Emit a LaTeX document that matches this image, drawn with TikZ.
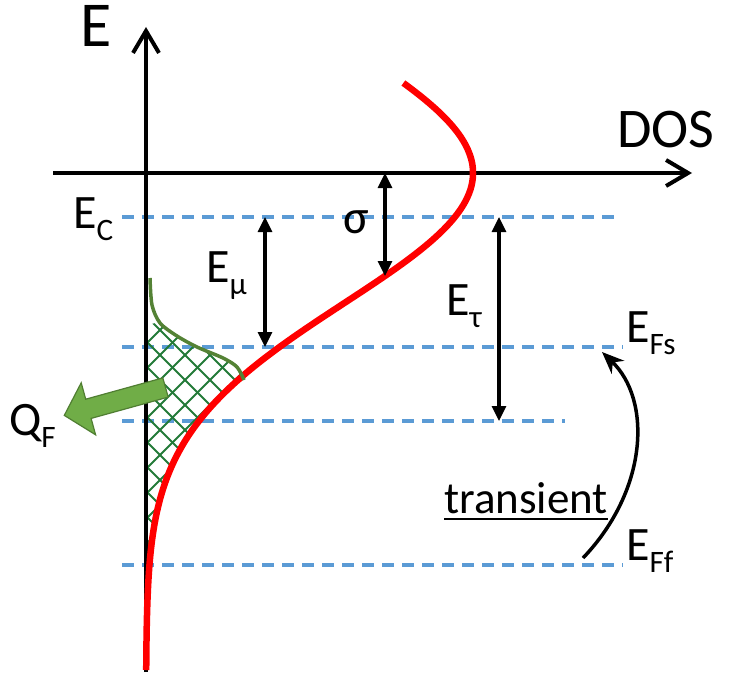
\documentclass[tikz,border=0pt]{standalone}
\usepackage{fontspec}
\setmainfont{Carlito}
\usetikzlibrary{arrows.meta}
\definecolor{lvlblue}{HTML}{5B9BD5}
\definecolor{dosred}{HTML}{FF0000}
\definecolor{trapgreen}{HTML}{548235}
\definecolor{hatchgreen}{HTML}{237A38}
\definecolor{qfill}{HTML}{70AD47}
\definecolor{qline}{HTML}{507E32}
\newcommand{\lsub}[1]{\raisebox{-0.27em}{\scalebox{0.65}{#1}}}
\begin{document}
\begin{tikzpicture}[x=1pt,y=-1pt,
  axisline/.style={line width=4pt,-{Straight Barb[length=22pt,width=26pt]}},
  level/.style={lvlblue,line width=3.5pt,dash pattern=on 12pt off 8pt},
  dim/.style={line width=3.2pt,{Triangle[length=15pt,width=14pt]}-{Triangle[length=15pt,width=14pt]}},
  lab/.style={font=\fontsize{48}{56}\selectfont,inner sep=0pt},
  biglab/.style={font=\fontsize{64}{72}\selectfont,inner sep=0pt},
  hatchline/.style={hatchgreen,line width=1.8pt},
  doscurve/.style={dosred,line width=6.5pt},
  trapcurve/.style={trapgreen,line width=3.5pt},
  transarrow/.style={line width=3.5pt,-{Stealth[length=22pt,width=18pt,inset=7pt]}}]
\useasboundingbox (0,0) rectangle (731,677);

% coordinates
\coordinate (o) at (146,173);
\coordinate (ybot) at (146,672);
\coordinate (ytop) at (146,27);
\coordinate (xl) at (53,173);
\coordinate (xr) at (692,173);
\coordinate (ecL) at (122,217);  \coordinate (ecR) at (615,217);
\coordinate (fsL) at (122,347);  \coordinate (fsR) at (623,347);
\coordinate (tL) at (122,421);   \coordinate (tR) at (565,421);
\coordinate (ffL) at (122,565);  \coordinate (ffR) at (623,565);
\coordinate (mutop) at (265,217); \coordinate (mubot) at (265,347);
\coordinate (sgtop) at (385,173); \coordinate (sgbot) at (385,276);
\coordinate (tautop) at (499,217); \coordinate (taubot) at (499,421);
\coordinate (trs) at (583,558); \coordinate (tre) at (602,352);

% energy levels
\draw[level] (ecL) -- (ecR);
\draw[level] (fsL) -- (fsR);
\draw[level] (tL) -- (tR);
\draw[level] (ffL) -- (ffR);

% hatched occupied states
\begin{scope}
  \clip plot[smooth] coordinates {(146,326) (160,323) (177,336) (197,347) (223,358) (237,367) (244,380)}
    -- plot[variable=\t,domain=380:565,samples=40] ({146+327*exp(-(((\t-173)/183.85)*((\t-173)/183.85)))},\t)
    -- (146,565) -- cycle;
  \foreach \k in {-120,-95,...,230} {\draw[hatchline] (\k,300) -- ++(300,300);}
  \foreach \k in {165,190,...,520} {\draw[hatchline] (\k,300) -- ++(-300,300);}
\end{scope}

% axes
\draw[axisline] (ybot) -- (ytop);
\draw[axisline] (xl) -- (xr);

% DOS curve
\draw[doscurve] plot[variable=\t,domain=83:670,samples=150,smooth] ({146+327*exp(-(((\t-173)/183.85)*((\t-173)/183.85)))},\t);

% trap curve
\draw[trapcurve] plot[smooth] coordinates {(150,278) (152,305) (160,323) (177,336) (197,347) (223,358) (237,367) (244,380)};

% QF arrow
\draw[fill=qfill,draw=qline,line width=1.2pt,line join=miter]
  (162.8,377.9) -- (85.7,399.2) -- (81.2,382.8) -- (64.3,415.4) -- (95.6,434.8) -- (91.1,418.4) -- (168.2,397.1) -- cycle;

% dimension arrows
\draw[dim] (mutop) -- (mubot);
\draw[dim] (sgtop) -- (sgbot);
\draw[dim] (tautop) -- (taubot);

% transient arrow
\draw[transarrow] (trs) .. controls (648,490) and (652,400) .. (tre);

% labels
\node[biglab,anchor=base west] (lE) at (80,47) {E};
\node[font=\fontsize{56}{64}\selectfont,inner sep=0pt,anchor=base west] (lDOS) at (617,147) {DOS};
\node[lab,anchor=base west] (lEC) at (73,228) {E\lsub{C}};
\node[lab,anchor=base] (lsig) at (356,233) {σ};
\node[lab,anchor=base west] (lEmu) at (206,282) {E\lsub{μ}};
\node[lab,anchor=base west] (lEtau) at (446,315) {E\lsub{τ}};
\node[lab,anchor=base west] (lEFs) at (626,342) {E\lsub{Fs}};
\node[lab,anchor=base west] (lEFf) at (626,560) {E\lsub{Ff}};
\node[lab,anchor=base west] (lQF) at (9,435) {Q\lsub{F}};
\node[font=\fontsize{45}{52}\selectfont,inner sep=0pt,anchor=base west] (ltr) at (444,513) {transient};
\draw[line width=2pt] ([yshift=-6pt]ltr.base west) -- ([yshift=-6pt]ltr.base east);
\end{tikzpicture}
\end{document}
